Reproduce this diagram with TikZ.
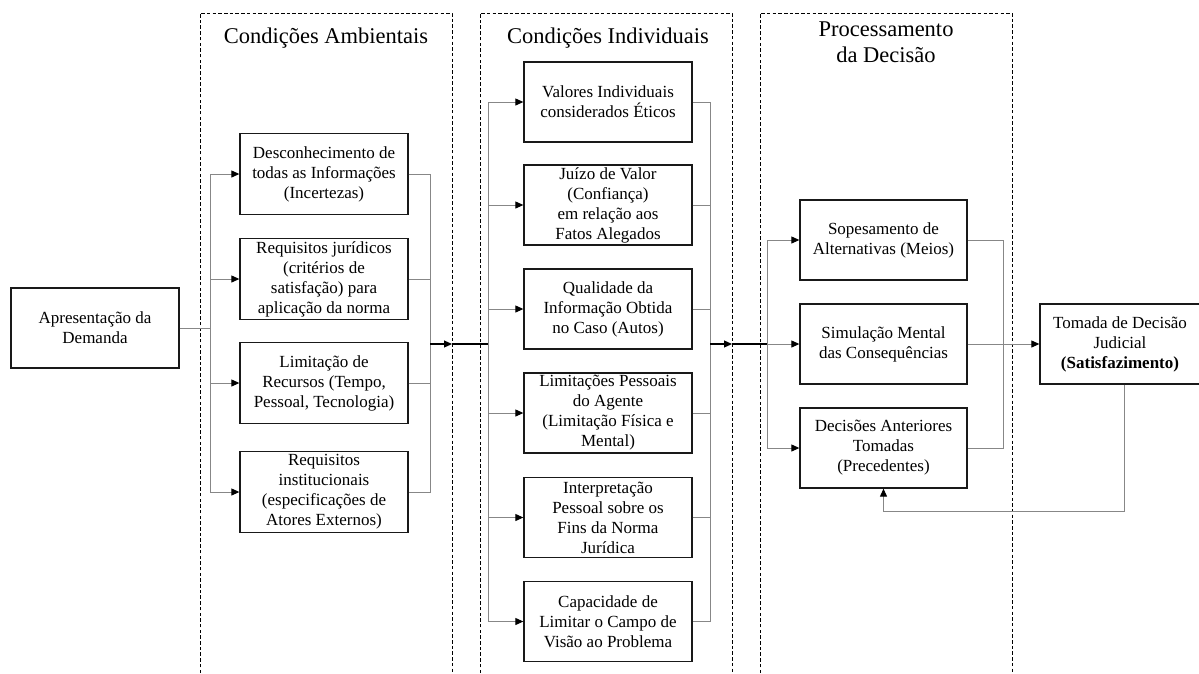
\documentclass[tikz,border=0pt]{standalone}
\usepackage{fontspec}
\setmainfont{Liberation Serif}
\usetikzlibrary{arrows.meta}
\definecolor{connc}{RGB}{135,135,135}
\definecolor{boxc}{RGB}{25,25,25}
\newcommand\bxfont{\fontsize{17}{20}\selectfont}
\newcommand\ttlfont{\fontsize{22.5}{25.5}\selectfont}
\begin{document}
\begin{tikzpicture}[x=1pt,y=-1pt,
  box/.style={draw=boxc, line width=1.3pt, minimum width=168pt, minimum height=80pt,
    inner sep=0pt, align=center, font=\bxfont},
  conn/.style={draw=connc, line width=1pt},
  arr/.style={conn, -{Triangle[length=8pt,width=7pt,color=black]}},
  blk/.style={draw=black, line width=1.1pt},
  blkarr/.style={blk, -{Triangle[length=8pt,width=7pt,color=black]}},
  frame/.style={draw=black, line width=0.9pt, dash pattern=on 3.5pt off 2.2pt},
  ttl/.style={font=\ttlfont, align=center, inner sep=0pt}]
\useasboundingbox (0,0) rectangle (1199,673);

% dashed frames
\draw[frame] (200,673) -- (200,13) -- (452,13) -- (452,673);
\draw[frame] (480,673) -- (480,13) -- (732,13) -- (732,673);
\draw[frame] (760,673) -- (760,13) -- (1012,13) -- (1012,673);

% titles
\node[ttl] (t1) at (326,38) {Condições Ambientais};
\node[ttl] (t2) at (608,38) {Condições Individuais};
\node[ttl] (t3) at (886,42) {Processamento\\da Decisão};

% boxes
\node[box] (a) at (95,328) {Apresentação da\\Demanda};

\node[box, minimum height=81pt] (d1) at (324,174) {Desconhecimento de\\todas as Informações\\(Incertezas)};
\node[box, minimum height=81pt] (d2) at (324,279) {Requisitos jurídicos\\(critérios de\\satisfação) para\\aplicação da norma};
\node[box, minimum height=81pt] (d3) at (324,383) {Limitação de\\Recursos (Tempo,\\Pessoal, Tecnologia)};
\node[box, minimum height=81pt] (d4) at (324,492) {Requisitos\\institucionais\\(especificações de\\Atores Externos)};

\node[box] (v1) at (608,102) {Valores Individuais\\considerados Éticos};
\node[box] (v2) at (608,205) {Juízo de Valor\\(Confiança)\\em relação aos\\Fatos Alegados};
\node[box] (v3) at (608,309) {Qualidade da\\Informação Obtida\\no Caso (Autos)};
\node[box] (v4) at (608,413) {Limitações Pessoais\\do Agente\\(Limitação Física e\\Mental)};
\node[box] (v5) at (608,517.5) {Interpretação\\Pessoal sobre os\\Fins da Norma\\Jurídica};
\node[box] (v6) at (608,621.5) {Capacidade de\\Limitar o Campo de\\Visão ao Problema};

\node[box, minimum width=167pt] (p1) at (883.5,240) {Sopesamento de\\Alternativas (Meios)};
\node[box, minimum width=167pt] (p2) at (883.5,344) {Simulação Mental\\das Consequências};
\node[box, minimum width=167pt] (p3) at (883.5,448) {Decisões Anteriores\\Tomadas\\(Precedentes)};

\node[box, minimum width=160pt] (t) at (1120,344) {Tomada de Decisão\\Judicial\\\textbf{(Satisfazimento)}};

% junction coordinates
\coordinate (j1) at (210,328);
\coordinate (k1) at (430,344);
\coordinate (m1) at (452,344);
\coordinate (j2) at (488,344);
\coordinate (k2) at (710,344);
\coordinate (m2) at (732,344);
\coordinate (j3) at (767,344);
\coordinate (k3) at (1003,344);
\coordinate (f1) at (1124,511);

% column 1
\draw[conn] (a.east) -- (j1);
\draw[conn] (d1.west -| j1) -- (d4.west -| j1);
\foreach \n in {d1,d2,d3,d4} {\draw[arr] (\n.west -| j1) -- (\n.west);}
\draw[conn] (d1.east) -- (d1.east -| k1) -- (d4.east -| k1) -- (d4.east);
\draw[conn] (d2.east) -- (d2.east -| k1);
\draw[conn] (d3.east) -- (d3.east -| k1);
\draw[blkarr] (k1) -- (m1);
\draw[blk] (m1) -- (j2);

% column 2
\draw[conn] (v1.west -| j2) -- (v6.west -| j2);
\foreach \n in {v1,v2,v3,v4,v5,v6} {\draw[arr] (\n.west -| j2) -- (\n.west);}
\draw[conn] (v1.east) -- (v1.east -| k2) -- (v6.east -| k2) -- (v6.east);
\foreach \n in {v2,v3,v4,v5} {\draw[conn] (\n.east) -- (\n.east -| k2);}
\draw[blkarr] (k2) -- (m2);
\draw[blk] (m2) -- (j3);

% column 3
\draw[conn] (p1.west -| j3) -- (p3.west -| j3);
\foreach \n in {p1,p2,p3} {\draw[arr] (\n.west -| j3) -- (\n.west);}
\draw[conn] (p1.east) -- (p1.east -| k3) -- (p3.east -| k3) -- (p3.east);
\draw[conn] (p2.east) -- (k3);
\draw[arr] (k3) -- (t.west);

% feedback
\draw[arr] (t.south -| f1) -- (f1) -- (f1 -| p3.south) -- (p3.south);
\end{tikzpicture}
\end{document}
